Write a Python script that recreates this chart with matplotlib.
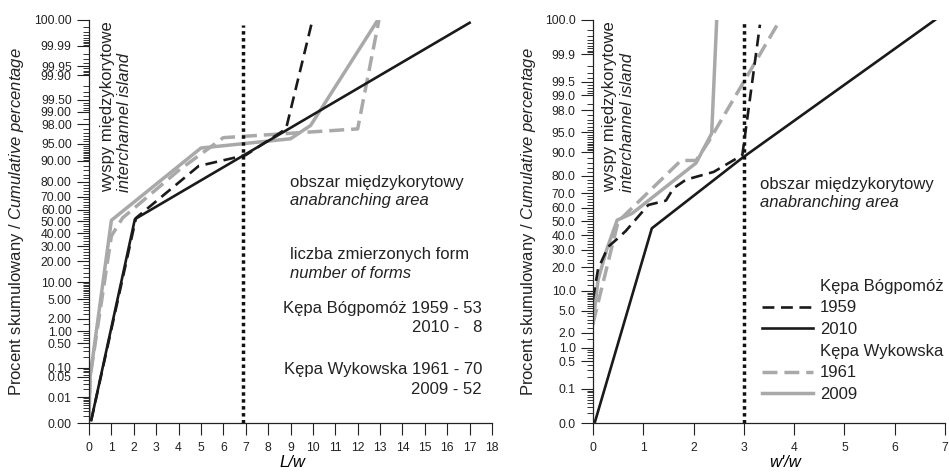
import math
import numpy as np
import matplotlib
matplotlib.use('Agg')
import matplotlib.pyplot as plt
from matplotlib.lines import Line2D
from matplotlib.ticker import FixedLocator, FixedFormatter, NullFormatter

plt.rcParams['font.family'] = ['Liberation Sans', 'DejaVu Sans']
plt.rcParams['mathtext.fontset'] = 'custom'
plt.rcParams['mathtext.rm'] = 'Liberation Sans'
plt.rcParams['mathtext.it'] = 'Liberation Sans:italic'
plt.rcParams['text.color'] = '#222222'
plt.rcParams['xtick.color'] = '#222222'
plt.rcParams['ytick.color'] = '#222222'

# ---------------- data: left panel (L/w) ----------------
left_b1959_x = [0.1, 2.1, 4.9, 7.0, 8.8, 9.95]
left_b1959_p = [0.0013, 53, 88, 92, 97.5, 99.9987]
left_b2010_x = [0.1, 2.05, 17.0]
left_b2010_p = [0.0013, 52, 99.9987]
left_w1961_x = [0.0, 0.05, 1.0, 1.5, 4.0, 6.0, 12.0, 12.95]
left_w1961_p = [0.002, 0.05, 38, 53, 86, 96.2, 97.5, 99.999]
left_w2009_x = [0.0, 0.05, 1.0, 5.0, 9.0, 9.9, 12.9]
left_w2009_p = [0.002, 0.05, 51, 94, 96, 97.9, 99.999]
left_threshold = 6.9

# ---------------- data: right panel (w'/w) ----------------
right_b1959_x = [0.0, 0.1, 0.3, 0.5, 0.65, 1.1, 1.45, 1.6, 1.85, 2.4, 2.97, 3.32]
right_b1959_p = [7.6, 19, 32, 38, 43, 62, 65, 73, 78, 82, 89, 99.986]
right_b2010_x = [0.04, 1.17, 2.97, 6.8]
right_b2010_p = [0.011, 45, 88, 99.99]
right_w1961_x = [0.0, 0.5, 1.75, 2.05, 2.3, 3.72]
right_w1961_p = [3, 50, 87, 87, 93, 99.99]
right_w2009_x = [0.0, 0.1, 0.27, 0.48, 0.78, 1.63, 2.05, 2.36, 2.46]
right_w2009_p = [3, 14, 30, 51, 56, 78, 86, 94.8, 99.99]
right_threshold = 3.0

left_yticks = [0.001, 0.01, 0.05, 0.1, 0.5, 1, 2, 5, 10, 20, 30, 40, 50, 60, 70, 80, 90,
               95, 98, 99, 99.5, 99.9, 99.95, 99.99, 99.999]
left_ylabels = ['0.00', '0.01', '0.05', '0.10', '0.50', '1.00', '2.00', '5.00', '10.00',
                '20.00', '30.00', '40.00', '50.00', '60.00', '70.00', '80.00', '90.00',
                '95.00', '98.00', '99.00', '99.50', '99.90', '99.95', '99.99', '100.00']
right_yticks = [0.01, 0.1, 0.5, 1, 2, 5, 10, 20, 30, 40, 50, 60, 70, 80, 90,
                95, 98, 99, 99.5, 99.9, 99.99]
right_ylabels = ['0.0', '0.1', '0.5', '1.0', '2.0', '5.0', '10.0', '20.0', '30.0', '40.0',
                 '50.0', '60.0', '70.0', '80.0', '90.0', '95.0', '98.0', '99.0', '99.5',
                 '99.9', '100.0']

# ---------------- probability scale ----------------
_a = [-3.969683028665376e+01, 2.209460984245205e+02, -2.759285104469687e+02,
      1.383577518672690e+02, -3.066479806614716e+01, 2.506628277459239e+00]
_b = [-5.447609879822406e+01, 1.615858368580409e+02, -1.556989798598866e+02,
      6.680131188771972e+01, -1.328068155288572e+01]
_c = [-7.784894002430293e-03, -3.223964580411365e-01, -2.400758277161838e+00,
      -2.549671323664893e+00, 4.374664141464968e+00, 2.938163982698783e+00]
_d = [7.784695709041462e-03, 3.224671290700398e-01, 2.445134137142996e+00,
      3.754408661907416e+00]


def _ppf_scalar(q):
    plow = 0.02425
    if q < plow:
        x = math.sqrt(-2 * math.log(q))
        return (((((_c[0]*x+_c[1])*x+_c[2])*x+_c[3])*x+_c[4])*x+_c[5]) / \
               ((((_d[0]*x+_d[1])*x+_d[2])*x+_d[3])*x+1)
    if q > 1 - plow:
        x = math.sqrt(-2 * math.log(1 - q))
        return -(((((_c[0]*x+_c[1])*x+_c[2])*x+_c[3])*x+_c[4])*x+_c[5]) / \
                ((((_d[0]*x+_d[1])*x+_d[2])*x+_d[3])*x+1)
    r = q - 0.5
    s = r * r
    return (((((_a[0]*s+_a[1])*s+_a[2])*s+_a[3])*s+_a[4])*s+_a[5])*r / \
           (((((_b[0]*s+_b[1])*s+_b[2])*s+_b[3])*s+_b[4])*s+1)


_vppf = np.vectorize(_ppf_scalar, otypes=[float])
_verfc = np.vectorize(math.erfc, otypes=[float])


def ppf(p):
    q = np.clip(np.asarray(p, dtype=float) / 100.0, 1e-12, 1 - 1e-12)
    return _vppf(q)


def cdf(z):
    z = np.asarray(z, dtype=float)
    return 100.0 * 0.5 * _verfc(-z / math.sqrt(2))


base = ([k * 10.0 ** e for e in (-3, -2, -1) for k in range(1, 10)]
        + [k * 0.5 for k in range(2, 20)] + list(range(10, 50, 2)))
minor_all = sorted(set([round(v, 6) for v in base] + [round(100 - v, 6) for v in base] + [50.0]))

# ---------------- figure ----------------
fig = plt.figure(figsize=(9.49, 4.73), dpi=100)
ax1 = fig.add_axes([89/949, 50/473, 403/949, 403/473])
ax2 = fig.add_axes([593/949, 50/473, 352/949, 403/473])

BLACK = '#1a1a1a'
GREY = '#a9a9a9'


def style_axis(ax, lo, hi, ticks, labels, xmax):
    ax.set_yscale('function', functions=(ppf, cdf))
    ax.set_ylim(lo, hi)
    ax.set_xlim(0, xmax)
    ax.yaxis.set_major_locator(FixedLocator(ticks))
    ax.yaxis.set_major_formatter(FixedFormatter(labels))
    ax.yaxis.set_minor_locator(FixedLocator([v for v in minor_all if lo < v < hi]))
    ax.yaxis.set_minor_formatter(NullFormatter())
    ax.set_xticks(range(0, xmax + 1))
    ax.spines['top'].set_visible(False)
    ax.spines['right'].set_visible(False)
    for s in ('left', 'bottom'):
        ax.spines[s].set_linewidth(0.9)
        ax.spines[s].set_color('#222222')
    ax.tick_params(axis='y', which='major', direction='out', length=8.5, width=0.8,
                   labelsize=8.7, pad=4)
    ax.tick_params(axis='y', which='minor', direction='out', length=4.0, width=0.7,
                   color='#333333')
    ax.tick_params(axis='x', which='major', direction='out', length=8.5, width=0.8,
                   labelsize=8.7, pad=5)
    ax.patch.set_visible(False)


style_axis(ax1, 0.001, 99.999, left_yticks, left_ylabels, 18)
style_axis(ax2, 0.01, 99.99, right_yticks, right_ylabels, 7)

# lines left
ax1.plot(left_w1961_x, left_w1961_p, color=GREY, lw=2.5, dashes=(4.3, 2.0))
ax1.plot(left_w2009_x, left_w2009_p, color=GREY, lw=2.5)
ax1.plot(left_b1959_x, left_b1959_p, color=BLACK, lw=1.9, dashes=(4.5, 2.5))
ax1.plot(left_b2010_x, left_b2010_p, color=BLACK, lw=1.9)
ax1.axvline(left_threshold, ymax=0.988, color='#111111', lw=2.5, linestyle=(0, (1, 1)))

# lines right
ax2.plot(right_w1961_x, right_w1961_p, color=GREY, lw=2.5, dashes=(4.3, 2.0))
ax2.plot(right_w2009_x, right_w2009_p, color=GREY, lw=2.5)
ax2.plot(right_b1959_x, right_b1959_p, color=BLACK, lw=1.9, dashes=(4.5, 2.5))
ax2.plot(right_b2010_x, right_b2010_p, color=BLACK, lw=1.9)
ax2.axvline(right_threshold, ymax=0.995, color='#111111', lw=2.5, linestyle=(0, (1, 1)))

# axis labels
ax1.set_xlabel('L/w', style='italic', fontsize=12)
ax1.xaxis.set_label_coords(0.506, -0.079)
ax2.set_xlabel("w'/w", style='italic', fontsize=12)
ax2.xaxis.set_label_coords(0.545, -0.079)

ylab = 'Procent skumulowany / $\\mathit{Cumulative\\ percentage}$'
fig.text(17/949, 1 - 221.5/473, ylab, rotation=90, ha='center', va='center', fontsize=12)
fig.text(529/949, 1 - 221.5/473, ylab, rotation=90, ha='center', va='center', fontsize=12)

# rotated annotations
for ax, x1, x2 in ((ax1, 0.045, 0.089), (ax2, 0.048, 0.099)):
    ax.text(x1, 0.573, 'wyspy międzykorytowe', transform=ax.transAxes, rotation=90,
            ha='center', va='bottom', fontsize=12)
    ax.text(x2, 0.573, 'interchannel island', transform=ax.transAxes, rotation=90,
            ha='center', va='bottom', fontsize=12, style='italic')

# left text block
T = ax1.transAxes
ax1.text(0.499, 0.598, 'obszar międzykorytowy', transform=T, ha='left', va='center', fontsize=12)
ax1.text(0.499, 0.553, 'anabranching area', transform=T, ha='left', va='center', fontsize=12,
         style='italic')
ax1.text(0.499, 0.419, 'liczba zmierzonych form', transform=T, ha='left', va='center', fontsize=12)
ax1.text(0.499, 0.372, 'number of forms', transform=T, ha='left', va='center', fontsize=12,
         style='italic')
ax1.text(0.975, 0.285, 'Kępa Bógpomóż 1959 - 53', transform=T, ha='right', va='center', fontsize=12)
ax1.text(0.975, 0.238, '2010 -   8', transform=T, ha='right', va='center', fontsize=12)
ax1.text(0.975, 0.132, 'Kępa Wykowska 1961 - 70', transform=T, ha='right', va='center', fontsize=12)
ax1.text(0.975, 0.082, '2009 - 52', transform=T, ha='right', va='center', fontsize=12)

# right text block
T2 = ax2.transAxes
ax2.text(0.474, 0.591, 'obszar międzykorytowy', transform=T2, ha='left', va='center', fontsize=12)
ax2.text(0.474, 0.548, 'anabranching area', transform=T2, ha='left', va='center', fontsize=12,
         style='italic')

handles = [Line2D([], [], color='none'),
           Line2D([], [], color=BLACK, lw=1.9, dashes=(4.5, 2.5)),
           Line2D([], [], color=BLACK, lw=1.9),
           Line2D([], [], color='none'),
           Line2D([], [], color=GREY, lw=2.5, dashes=(4.3, 2.0)),
           Line2D([], [], color=GREY, lw=2.5)]
labels = ['Kępa Bógpomóż', '1959', '2010', 'Kępa Wykowska', '1961', '2009']
ax2.legend(handles, labels, loc='upper left', bbox_to_anchor=(0.48, 0.358), frameon=False,
           fontsize=12, handlelength=3.05, handletextpad=0.42, labelspacing=0.4,
           borderpad=0, borderaxespad=0)

fig.savefig('out.png', dpi=100)
